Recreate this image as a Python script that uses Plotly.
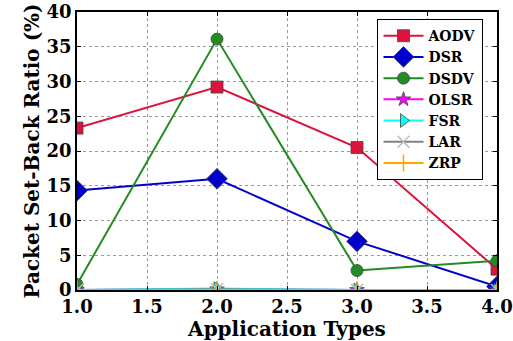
import plotly.graph_objects as go

x_vals = [1, 2, 3, 4]
aodv = [23.3, 29.2, 20.5, 3.0]
dsr = [14.3, 16.0, 7.0, 0.5]
dsdv = [0.8, 36.1, 2.8, 4.2]
olsr = [0.0, 0.1, 0.0, 0.0]
fsr = [0.0, 0.2, 0.0, 0.0]
lar = [0.0, 0.1, 0.0, 0.0]
zrp = [0.0, 0.0, 0.0, 0.0]

series = [
    ("AODV", aodv, "#dc143c", "square", 12),
    ("DSR", dsr, "#0000cd", "diamond", 16),
    ("DSDV", dsdv, "#228b22", "circle", 12),
    ("OLSR", olsr, "#ff00ff", "star", 11),
    ("FSR", fsr, "#00ffff", "triangle-right", 12),
    ("LAR", lar, "#808080", "x-thin", 12),
    ("ZRP", zrp, "#ffa500", "line-ns", 12),
]

font_fam = "DejaVu Serif"
fig = go.Figure()
for name, vals, col, sym, sz in series:
    mline = dict(color="#444444", width=0.8)
    if sym in ("x-thin", "line-ns"):
        mline = dict(color="#bbbbbb" if sym == "x-thin" else col, width=1.5)
    fig.add_trace(go.Scatter(
        x=x_vals, y=vals, name=name, mode="lines+markers",
        line=dict(color=col, width=2),
        marker=dict(symbol=sym, size=sz, color=col, line=mline),
        cliponaxis=True,
    ))

axis_common = dict(
    showline=True, linecolor="black", linewidth=1.5, mirror="ticks",
    ticks="inside", ticklen=4, tickcolor="black",
    showgrid=True, gridcolor="#999999", griddash="dot", gridwidth=1,
    zeroline=False, automargin=False,
    tickfont=dict(family=font_fam, size=18, color="black", weight="bold"),
)
fig.update_xaxes(range=[1, 4], dtick=0.5, tickformat=".1f",
                 title=dict(text="Application Types", standoff=0,
                            font=dict(family=font_fam, size=20, color="black", weight="bold")),
                 **axis_common)
fig.update_yaxes(range=[0, 40], dtick=5,
                 title=dict(text="Packet Set-Back Ratio (%)", standoff=2,
                            font=dict(family=font_fam, size=20, color="black", weight="bold")),
                 **axis_common)
fig.update_layout(
    width=513, height=341,
    margin=dict(l=77, r=16, t=12, b=51),
    plot_bgcolor="white", paper_bgcolor="white",
    legend=dict(x=0.715, y=0.975, xanchor="left", yanchor="top",
                bordercolor="black", borderwidth=1.2, bgcolor="white",
                font=dict(family=font_fam, size=14, color="black", weight="bold"),
                itemwidth=40, tracegroupgap=0),
    showlegend=True,
)
fig.write_html("out.html")
